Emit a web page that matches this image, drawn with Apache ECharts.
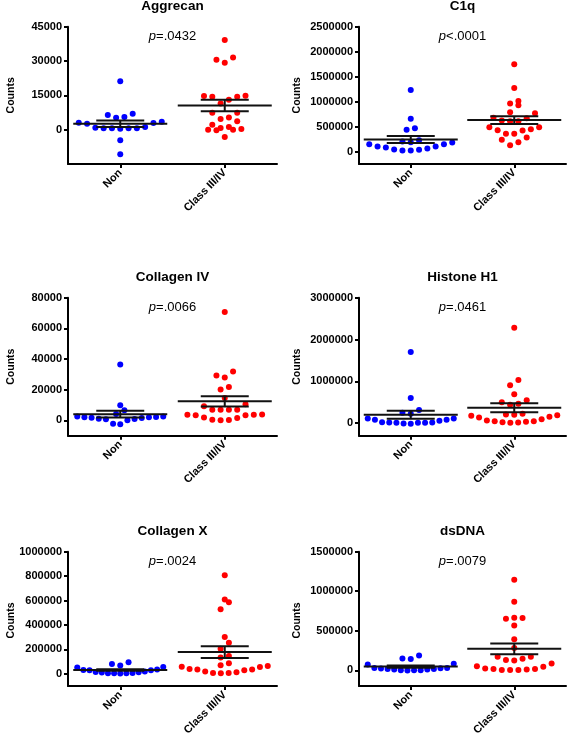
<!DOCTYPE html>
<html><head><meta charset="utf-8">
<script src="https://cdn.jsdelivr.net/npm/echarts@6/dist/echarts.min.js"></script>
<style>html,body{margin:0;padding:0;background:#fff}#c{width:567px;height:738px}</style>
</head><body><div id="c"></div>
<script>
// ---------- data ----------
const categories = ['Non', 'Class III/IV'];
const panelTitles = ['Aggrecan', 'C1q', 'Collagen IV', 'Histone H1', 'Collagen X', 'dsDNA'];
const pTexts = ['=.0432', '<.0001', '=.0066', '=.0461', '=.0024', '=.0079'];
const yMins = [-15000, -250000, -10000, -300000, -100000, -200000];
const yMaxs = [45000, 2500000, 80000, 3000000, 1000000, 1500000];
const yTicks = [
  [0, 15000, 30000, 45000],
  [0, 500000, 1000000, 1500000, 2000000, 2500000],
  [0, 20000, 40000, 60000, 80000],
  [0, 1000000, 2000000, 3000000],
  [0, 200000, 400000, 600000, 800000, 1000000],
  [0, 500000, 1000000, 1500000]
];

const aggrecanNon = [21200, 6970, 5520, 5230, 6390, 3480, 2900, 2610, 3050, 1150, 870, 580, 580, 580, 440, 580, -4650, -10750];
const aggrecanClass = [39200, 31500, 29300, 30600, 14800, 14400, 13070, 11460, 14400, 14680, 7400, 7400, 4650, 3630, 5370, 290, 0, 1160, 730, -290, 2180, 0, -3190];
const c1qNon = [1234000, 654000, 434000, 467000, 228000, 200000, 180000, 147000, 100000, 60000, 34000, 20000, 20000, 40000, 80000, 100000, 147000, 188000];
const c1qClass = [1748000, 1274000, 960000, 928000, 1014000, 788000, 768000, 674000, 620000, 608000, 608000, 668000, 488000, 428000, 354000, 354000, 420000, 448000, 488000, 234000, 188000, 280000, 128000];
const collagenIVNon = [36400, 9800, 4100, 6540, 2600, 2160, 1960, 1500, 650, 0, 850, 1100, 1770, 1960, 2600, -2600, -2200];
const collagenIVClass = [70600, 31800, 27900, 29200, 21800, 20100, 14600, 10500, 9200, 7000, 7000, 7000, 7000, 3700, 3300, 3300, 3700, 3900, 1800, 460, 0, 200, 1500];
const histoneNon = [1704000, 600000, 250000, 226000, 312000, 113000, 82000, 58000, 17000, 10000, 10000, -14000, -7000, 10000, 17000, 24000, 82000, 113000];
const histoneClass = [2280000, 905000, 1032000, 689000, 497000, 441000, 465000, 545000, 209000, 202000, 226000, 177000, 137000, 65000, 48000, 24000, 10000, 17000, 34000, 48000, 96000, 154000, 192000];
const collagenXNon = [96000, 80000, 69000, 56000, 35000, 30000, 16000, 11000, 5000, 5000, 3000, 5000, 8000, 13000, 19000, 30000, 32000, 53000];
const collagenXClass = [808000, 608000, 587000, 528000, 302000, 254000, 206000, 134000, 147000, 86000, 70000, 59000, 40000, 35000, 19000, 8000, 5000, 8000, 13000, 30000, 35000, 56000, 64000];
const dsDNANon = [186000, 149000, 141000, 83000, 74000, 29000, 25000, 17000, 8700, 0, -4000, 0, 0, 8700, 17000, 21000, 29000];
const dsDNAClass = [1146000, 868000, 662000, 653000, 666000, 567000, 393000, 281000, 170000, 129000, 124000, 145000, 170000, 50000, 21000, 17000, 5000, 5000, 5000, 9000, 17000, 46000, 87000];

const groupData = [
  [aggrecanNon, aggrecanClass],
  [c1qNon, c1qClass],
  [collagenIVNon, collagenIVClass],
  [histoneNon, histoneClass],
  [collagenXNon, collagenXClass],
  [dsDNANon, dsDNAClass]
];

// ---------- layout / style ----------
const FONT = '"Liberation Sans", Arial, Helvetica, sans-serif';
const BLUE = '#0000ff', RED = '#ff0000';
const grids = [
  {left: 68, top: 26.7, width: 209, height: 137.3},
  {left: 359, top: 26.7, width: 207, height: 137.3},
  {left: 68, top: 297.7, width: 209, height: 138},
  {left: 359, top: 297.7, width: 207, height: 138},
  {left: 68, top: 551.7, width: 209, height: 137.6},
  {left: 359, top: 551.7, width: 207, height: 137.6}
];
const ROW_H = 8, DOT_GAP = 8.3, MAX_SPAN = 86;

// row-based scatter layout (GraphPad-like): returns x offsets in axis units
function swarm(values, yMin, yMax, hPx, unitPx) {
  const idx = values.map((v, i) => i).sort((a, b) => values[a] - values[b]);
  const py = v => (yMax - v) / (yMax - yMin) * hPx;
  const rows = [];
  let cur = null;
  idx.forEach(i => {
    const p = py(values[i]);
    if (!cur || cur.start - p > ROW_H) { cur = {start: p, items: []}; rows.push(cur); }
    cur.items.push(i);
  });
  const off = new Array(values.length).fill(0);
  rows.forEach(r => {
    const n = r.items.length;
    const sp = n > 1 ? Math.min(DOT_GAP, MAX_SPAN / (n - 1)) : 0;
    const slots = [];
    if (n % 2 === 1) {
      slots.push(0);
      for (let k = 1; slots.length < n; k++) { slots.push(-k); if (slots.length < n) slots.push(k); }
    } else {
      for (let k = 0.5; slots.length < n; k++) { slots.push(-k); if (slots.length < n) slots.push(k); }
    }
    r.items.forEach((it, j) => { off[it] = slots[j] * sp / unitPx; });
  });
  return off;
}
function stats(v) {
  const n = v.length, m = v.reduce((a, b) => a + b, 0) / n;
  const sd = Math.sqrt(v.reduce((a, b) => a + (b - m) * (b - m), 0) / (n - 1));
  return [m, sd / Math.sqrt(n)];
}

const option = {animation: false, backgroundColor: '#fff', grid: [], xAxis: [], yAxis: [], series: [], graphic: {elements: []}};

grids.forEach((g, i) => {
  option.grid.push({left: g.left, top: g.top, width: g.width, height: g.height, containLabel: false});
  option.xAxis.push({
    type: 'value', gridIndex: i, min: 0.5, max: 2.5,
    axisLine: {show: true, onZero: false, lineStyle: {color: '#000', width: 2}},
    axisTick: {show: true, customValues: [1, 2], length: 4, lineStyle: {color: '#000', width: 2}},
    axisLabel: {customValues: [1, 2], formatter: v => categories[Math.round(v) - 1], rotate: 45, margin: 7,
      fontSize: 11, fontWeight: 'bold', fontFamily: FONT, color: '#000'},
    splitLine: {show: false}
  });
  option.yAxis.push({
    type: 'value', gridIndex: i, min: yMins[i], max: yMaxs[i],
    axisLine: {show: true, onZero: false, lineStyle: {color: '#000', width: 2}},
    axisTick: {show: true, customValues: yTicks[i], length: 4, lineStyle: {color: '#000', width: 2}},
    axisLabel: {customValues: yTicks[i], formatter: v => String(v), margin: 6,
      fontSize: 11, fontWeight: 'bold', fontFamily: FONT, color: '#000'},
    splitLine: {show: false}
  });
  const unitPx = g.width / 2;
  const colors = [BLUE, RED];
  const bars = [];
  groupData[i].forEach((vals, gi) => {
    const offs = swarm(vals, yMins[i], yMaxs[i], g.height, unitPx);
    option.series.push({
      type: 'scatter', xAxisIndex: i, yAxisIndex: i, symbol: 'circle', symbolSize: 6, silent: true, z: 2,
      itemStyle: {color: colors[gi], opacity: 1},
      data: vals.map((v, k) => [gi + 1 + offs[k], v])
    });
    const [m, s] = stats(vals);
    bars.push([gi + 1, m, s]);
  });
  option.series.push({
    type: 'custom', xAxisIndex: i, yAxisIndex: i, z: 5, silent: true, clip: false,
    encode: {x: 0, y: 1},
    data: bars,
    renderItem: function (params, api) {
      const x = api.value(0), m = api.value(1), s = api.value(2);
      const c = api.coord([x, m]), u = api.coord([x, m + s]), l = api.coord([x, m - s]);
      const st = {stroke: '#111', lineWidth: 2};
      return {type: 'group', children: [
        {type: 'line', shape: {x1: c[0] - 47, y1: c[1], x2: c[0] + 47, y2: c[1]}, style: st},
        {type: 'line', shape: {x1: c[0] - 24, y1: u[1], x2: c[0] + 24, y2: u[1]}, style: st},
        {type: 'line', shape: {x1: c[0] - 24, y1: l[1], x2: c[0] + 24, y2: l[1]}, style: st},
        {type: 'line', shape: {x1: c[0], y1: u[1], x2: c[0], y2: l[1]}, style: st}
      ]};
    }
  });
  const cx = g.left + g.width / 2;
  option.graphic.elements.push({
    type: 'text', x: cx, y: g.top - 20, silent: true,
    style: {text: panelTitles[i], fill: '#000', fontSize: 13.5, fontWeight: 'bold', fontFamily: FONT,
      align: 'center', verticalAlign: 'middle'}
  });
  option.graphic.elements.push({
    type: 'text', x: cx, y: g.top + 10, silent: true,
    style: {text: '{i|p}{n|' + pTexts[i] + '}', fill: '#000', fontSize: 13, fontFamily: FONT,
      align: 'center', verticalAlign: 'middle',
      rich: {i: {fontStyle: 'italic', fontSize: 13, fontFamily: FONT, fill: '#000'},
             n: {fontSize: 13, fontFamily: FONT, fill: '#000'}}}
  });
  option.graphic.elements.push({
    type: 'text', x: i % 2 === 0 ? 11 : 297, y: g.top + g.height / 2, rotation: Math.PI / 2, silent: true,
    style: {text: 'Counts', fill: '#000', fontSize: 10.5, fontWeight: 'bold', fontFamily: FONT,
      align: 'center', verticalAlign: 'middle'}
  });
});

const chart = echarts.init(document.getElementById('c'), null, {renderer: 'canvas'});
chart.setOption(option);
</script></body></html>
